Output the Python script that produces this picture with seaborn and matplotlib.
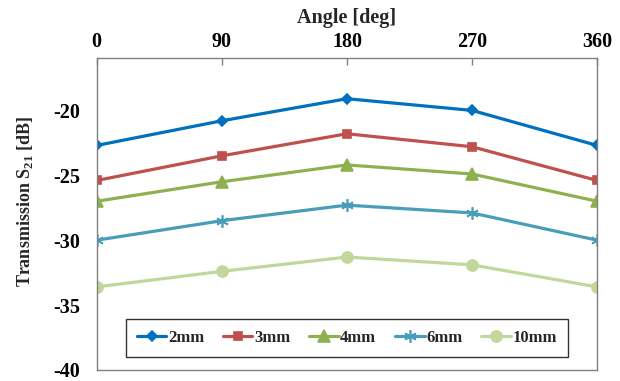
import matplotlib
matplotlib.use("Agg")
import matplotlib.pyplot as plt
import seaborn as sns
import pandas as pd

angles = [0, 90, 180, 270, 360]
series_names = ["2mm", "3mm", "4mm", "6mm", "10mm"]
s_2mm = [-22.7, -20.8, -19.1, -20.0, -22.7]
s_3mm = [-25.4, -23.5, -21.8, -22.8, -25.4]
s_4mm = [-27.0, -25.5, -24.2, -24.9, -27.0]
s_6mm = [-30.0, -28.5, -27.3, -27.9, -30.0]
s_10mm = [-33.6, -32.4, -31.3, -31.9, -33.6]
x_ticks = [0, 90, 180, 270, 360]
y_ticks = [-40, -35, -30, -25, -20]

values = [s_2mm, s_3mm, s_4mm, s_6mm, s_10mm]
rows = []
for name, vals in zip(series_names, values):
    for a, v in zip(angles, vals):
        rows.append({"Angle": a, "S21": v, "Series": name})
df = pd.DataFrame(rows)

sns.set_theme(style="white")
plt.rcParams["font.family"] = ["Liberation Serif", "DejaVu Serif"]
plt.rcParams["font.weight"] = "bold"
plt.rcParams["axes.unicode_minus"] = False
plt.rcParams["mathtext.fontset"] = "custom"
plt.rcParams["mathtext.rm"] = "Liberation Serif:bold"
plt.rcParams["mathtext.bf"] = "Liberation Serif:bold"

colors = {"2mm": "#0070C0", "3mm": "#C0504D", "4mm": "#8EB04E",
          "6mm": "#4A9DB8", "10mm": "#C3D69B"}
markers = {"2mm": "D", "3mm": "s", "4mm": "^", "6mm": (6, 2, 0), "10mm": "o"}
msizes = {"2mm": 5, "3mm": 6, "4mm": 8, "6mm": 9, "10mm": 8}

fig = plt.figure(figsize=(6.2, 3.81), dpi=100)
ax = fig.add_axes([0.156, 0.029, 0.807, 0.8175])

for name in series_names:
    sub = df[df["Series"] == name]
    sns.lineplot(data=sub, x="Angle", y="S21", ax=ax, color=colors[name],
                 marker=markers[name], markersize=msizes[name],
                 markeredgecolor=colors[name], markeredgewidth=1.2,
                 linewidth=2.3, label=name)

ax.set_xlim(0, 360)
ax.set_ylim(-40, -16)
ax.set_xticks(x_ticks)
ax.set_yticks(y_ticks)
ax.xaxis.tick_top()
ax.xaxis.set_label_position("top")
ax.set_xlabel("Angle [deg]", fontsize=14.5, fontweight="bold", labelpad=6)
ax.set_ylabel(r"Transmission S$_{\mathbf{21}}$ [dB]", fontsize=13,
              fontweight="bold")
ax.yaxis.set_label_coords(-0.124, 0.54)
ax.tick_params(axis="both", direction="in", length=5, width=1,
               color="#808080", labelsize=14.5, labelcolor="black")
ax.tick_params(axis="x", pad=5)
ax.tick_params(axis="y", pad=12)
for lab in ax.get_xticklabels() + ax.get_yticklabels():
    lab.set_fontweight("bold")
for sp in ax.spines.values():
    sp.set_color("#808080")
    sp.set_linewidth(1)

leg = ax.legend(loc="lower center", bbox_to_anchor=(0.5, 0.042), ncol=5,
                frameon=True, fancybox=False, edgecolor="black",
                borderaxespad=0,
                prop={"family": "Liberation Serif", "weight": "bold", "size": 12},
                handlelength=1.75, handletextpad=0.1, columnspacing=1.15,
                borderpad=0.65)
leg.get_frame().set_linewidth(1)

fig.savefig("out.png", dpi=100)
